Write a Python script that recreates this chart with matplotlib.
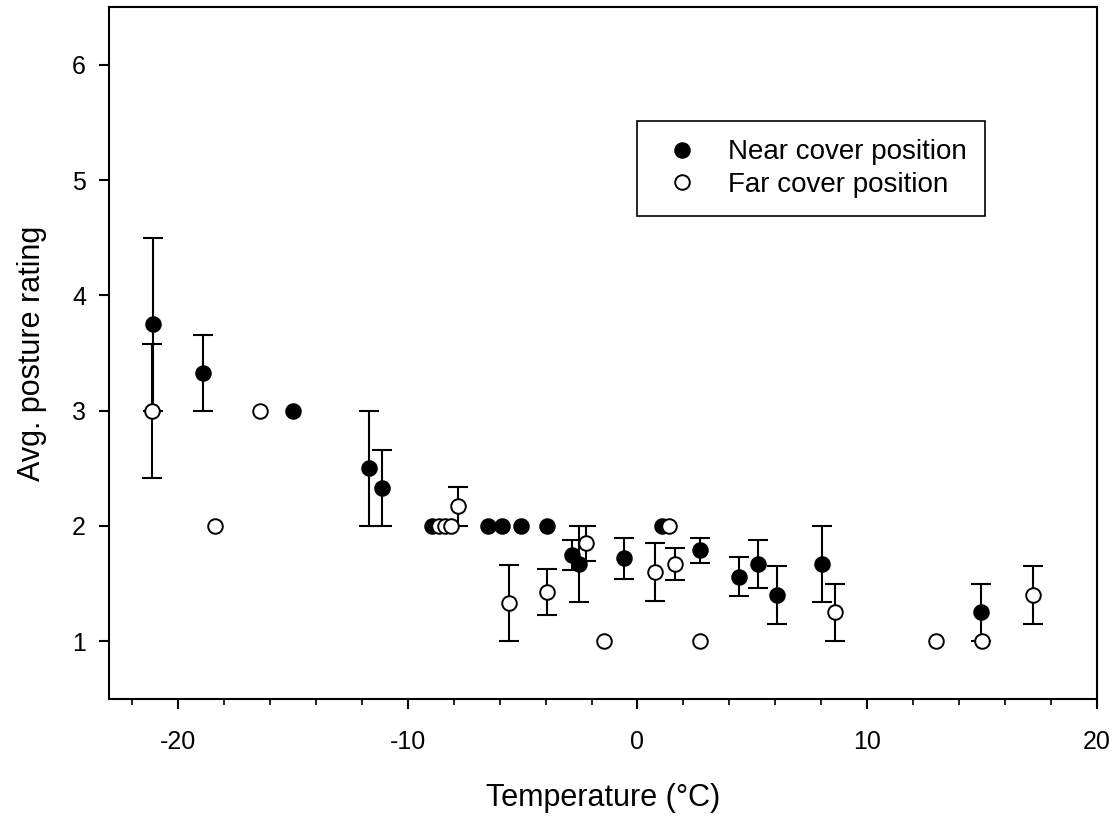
import matplotlib
matplotlib.use("Agg")
import matplotlib.pyplot as plt
from matplotlib.ticker import MultipleLocator
import numpy as np

plt.rcParams["font.family"] = ["Liberation Sans", "DejaVu Sans"]
plt.rcParams["axes.unicode_minus"] = False

# near cover position (filled)
near_temp = [-21.1, -18.9, -15.0, -11.7, -11.1, -8.93, -6.5, -5.9, -5.05, -3.92,
             -2.83, -2.53, -0.58, 1.07, 2.74, 4.41, 5.24, 6.08, 8.01, 14.96]
near_rating = [3.75, 3.33, 3.0, 2.5, 2.33, 2.0, 2.0, 2.0, 2.0, 2.0,
               1.75, 1.67, 1.72, 2.0, 1.79, 1.56, 1.67, 1.4, 1.67, 1.25]
near_err = [0.75, 0.33, 0, 0.5, 0.33, 0, 0, 0, 0, 0,
            0.13, 0.33, 0.18, 0, 0.11, 0.17, 0.21, 0.25, 0.33, 0.25]

# far cover position (open)
far_temp = [-21.13, -18.37, -16.44, -8.66, -8.36, -8.10, -7.83, -5.6, -3.93, -2.26,
            -1.44, 0.78, 1.36, 1.63, 2.74, 8.58, 13.0, 15.0, 17.22]
far_rating = [3.0, 2.0, 3.0, 2.0, 2.0, 2.0, 2.17, 1.33, 1.43, 1.85,
              1.0, 1.6, 2.0, 1.67, 1.0, 1.25, 1.0, 1.0, 1.4]
far_err = [0.58, 0, 0, 0, 0, 0, 0.17, 0.33, 0.2, 0.15,
           0, 0.25, 0, 0.14, 0, 0.25, 0, 0, 0.25]

fig = plt.figure(figsize=(11.16, 8.18), dpi=100)
ax = fig.add_axes([0.0977, 0.1455, 0.8853, 0.8459])

def draw(temp, rating, err, face, label):
    temp, rating, err = np.array(temp), np.array(rating), np.array(err)
    m = err > 0
    ax.errorbar(temp[m], rating[m], yerr=err[m], fmt="none", ecolor="black",
                elinewidth=1.5, capsize=7.5, capthick=1.5, zorder=2)
    ax.plot(temp, rating, "o", ms=10.5, mfc=face, mec="black", mew=1.4,
            ls="none", label=label, zorder=3)

draw(near_temp, near_rating, near_err, "black", "Near cover position")
draw(far_temp, far_rating, far_err, "white", "Far cover position")

ax.set_xlim(-23, 20)
ax.set_ylim(0.5, 6.5)
ax.xaxis.set_major_locator(MultipleLocator(10))
ax.xaxis.set_minor_locator(MultipleLocator(2))
ax.set_yticks([1, 2, 3, 4, 5, 6])
ax.tick_params(axis="both", which="major", direction="out", length=7.5, width=1.5,
               labelsize=18, color="black")
ax.tick_params(axis="x", which="major", pad=15)
ax.tick_params(axis="y", which="major", pad=9)
ax.tick_params(axis="x", which="minor", direction="out", length=4.5, width=1.2)
for s in ax.spines.values():
    s.set_linewidth(1.5)

ax.set_xlabel("Temperature (°C)", fontsize=22, labelpad=21)
ax.set_ylabel("Avg. posture rating", fontsize=22, labelpad=18)

leg = ax.legend(loc="upper left", bbox_to_anchor=(0.534, 0.835), borderaxespad=0,
                fontsize=20, frameon=True, fancybox=False, edgecolor="black",
                framealpha=1, handletextpad=0.65, borderpad=0.65,
                labelspacing=0.25, markerscale=1.0)
leg.get_frame().set_linewidth(1.2)

fig.savefig("out.png", dpi=100)
